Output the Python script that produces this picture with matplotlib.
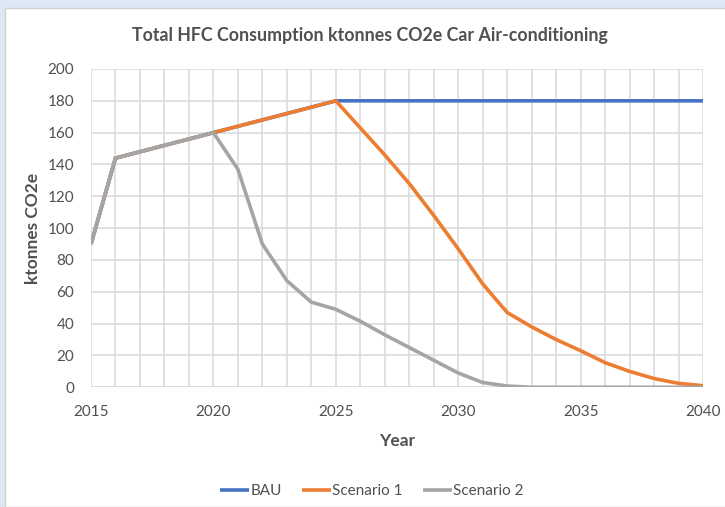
import numpy as np
import matplotlib.pyplot as plt
from matplotlib.patches import Rectangle

# данные
years = list(range(2015, 2041))
bau = [90, 144, 148, 152, 156, 160, 164, 168, 172, 176, 180,
       180, 180, 180, 180, 180, 180, 180, 180, 180, 180, 180, 180, 180, 180, 180]
scenario1 = [90, 144, 148, 152, 156, 160, 164, 168, 172, 176, 180,
             163, 146, 128, 108, 87, 65, 47, 38, 30, 23, 15.5, 10, 5.5, 2.5, 1]
scenario2 = [90, 144, 148, 152, 156, 160, 137, 90, 67, 53.5, 49,
             41.5, 33, 25, 17, 9, 3, 0.8, 0, 0, 0, 0, 0, 0, 0, 0]
x_ticks = [2015, 2020, 2025, 2030, 2035, 2040]
y_ticks = list(range(0, 201, 20))

plt.rcParams['font.family'] = ['Lato', 'DejaVu Sans']
text_col = '#505050'

fig = plt.figure(figsize=(7.25, 5.07), dpi=100)
fig.patch.set_facecolor('#dde8f4')
# белая область диаграммы с тонкой серой рамкой
fig.add_artist(Rectangle((5 / 725, 0), 1, 1 - 7.5 / 507, transform=fig.transFigure,
                         facecolor='white', edgecolor='#d0d0d0', linewidth=1, zorder=0))

ax = fig.add_axes([91 / 725, 119.7 / 507, 612 / 725, 318.3 / 507])
ax.set_facecolor('white')

ax.plot(years, bau, color='#4472C4', lw=2.6, label='BAU', solid_capstyle='butt', zorder=3)
ax.plot(years, scenario1, color='#ED7D31', lw=2.6, label='Scenario 1', solid_capstyle='butt', zorder=4)
ax.plot(years, scenario2, color='#A5A5A5', lw=2.6, label='Scenario 2', solid_capstyle='butt', zorder=5)

ax.set_xlim(2015, 2040)
ax.set_ylim(0, 200)
ax.set_xticks(years, minor=True)
ax.set_xticks(x_ticks)
ax.set_yticks(y_ticks)
ax.grid(True, which='both', color='#d9d9d9', lw=1.1)
ax.set_axisbelow(True)
ax.tick_params(which='both', length=0, labelsize=11, labelcolor=text_col)
ax.tick_params(axis='x', pad=13)
ax.tick_params(axis='y', pad=12)
for s in ax.spines.values():
    s.set_visible(False)
ax.axhline(0, color='#d9d9d9', lw=1.2, zorder=1)

fig.text(370 / 725, 1 - 35 / 507, 'Total HFC Consumption ktonnes CO2e Car Air-conditioning',
         ha='center', va='center', fontsize=12.8, fontweight='bold', color=text_col)
ax.set_xlabel('Year', fontsize=12.5, fontweight='bold', color=text_col, labelpad=10)
ax.set_ylabel('ktonnes CO2e', fontsize=12.5, fontweight='bold', color=text_col, labelpad=5)

leg = fig.legend(loc='center', bbox_to_anchor=(372 / 725, 1 - 491 / 507), ncol=3,
                 frameon=False, fontsize=11, handlelength=1.9, handletextpad=0.1,
                 columnspacing=1.3)
for t in leg.get_texts():
    t.set_color(text_col)

plt.savefig('out.png', dpi=100, facecolor=fig.get_facecolor())
